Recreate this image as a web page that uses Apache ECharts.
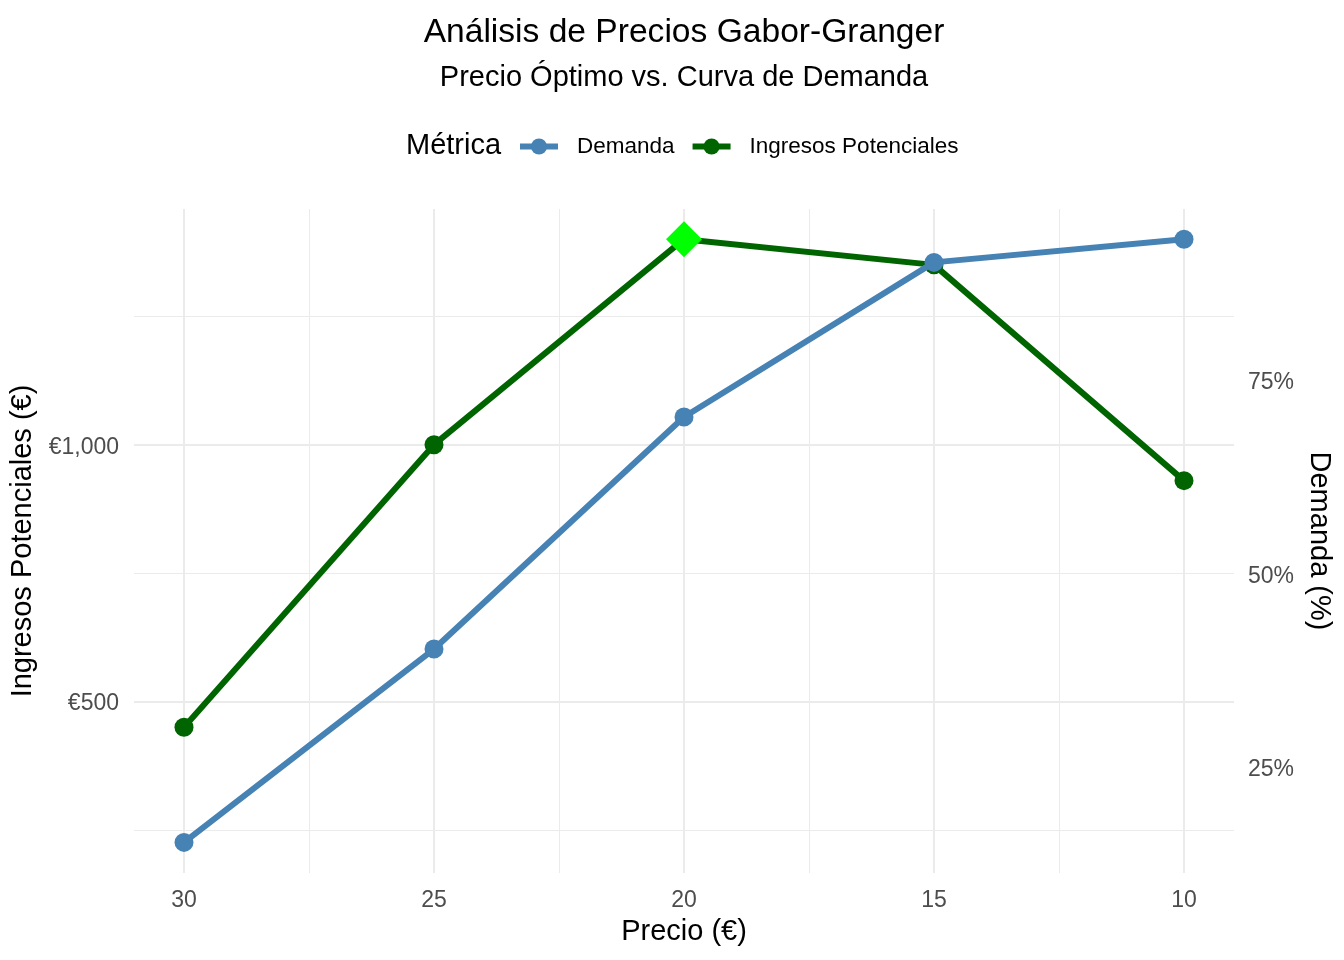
<!DOCTYPE html>
<html>
<head>
<meta charset="utf-8">
<script src="https://cdn.jsdelivr.net/npm/echarts@6/dist/echarts.min.js"></script>
<style>
html,body{margin:0;padding:0;background:#fff;}
#chart{width:1344px;height:960px;}
</style>
</head>
<body>
<div id="chart"></div>
<script>
// ---- data ----
const precios = [30, 25, 20, 15, 10];
const demanda = [15, 40, 70, 90, 93];            // %
const ingresos = [450, 1000, 1400, 1350, 930];   // €
const precioOptimo = 20;
const ingresoOptimo = 1400;

// ---- tick labels ----
const xTicks = [30, 25, 20, 15, 10];
const xMinorTicks = [27.5, 22.5, 17.5, 12.5];
const yLeftTicks = [500, 1000];
const yLeftMinorTicks = [250, 750, 1250];
const yRightTicks = [25, 50, 75];

// secondary axis scale: revenue = demand * SCALE
const SCALE = Math.max(...ingresos) / Math.max(...demanda);
const yMin = 166.25, yMax = 1458.75;
const xMin = 9, xMax = 31;

const FONT = '"Liberation Sans", Arial, sans-serif';
const GRID = '#EBEBEB';

const chart = echarts.init(document.getElementById('chart'), null, {renderer: 'canvas'});

const option = {
  backgroundColor: '#ffffff',
  animation: false,
  textStyle: {fontFamily: FONT},
  title: [
    {text: 'Análisis de Precios Gabor-Granger', left: 679, top: 11, textAlign: 'center',
     textStyle: {fontFamily: FONT, fontSize: 33.6, fontWeight: 'normal', color: '#000'}},
    {text: 'Precio Óptimo vs. Curva de Demanda', left: 679, top: 58, textAlign: 'center',
     textStyle: {fontFamily: FONT, fontSize: 29, fontWeight: 'normal', color: '#000'}},
    {text: 'Métrica', left: 401, top: 126,
     textStyle: {fontFamily: FONT, fontSize: 29, fontWeight: 'normal', color: '#000'}}
  ],
  legend: {
    data: ['Demanda', 'Ingresos Potenciales'],
    left: 512, top: 130,
    itemWidth: 38, itemHeight: 20, itemGap: 15,
    lineStyle: {width: 6},
    textStyle: {fontFamily: FONT, fontSize: 22.5, color: '#000', padding: [0, 0, 0, 14]}
  },
  grid: {left: 134, right: 110, top: 209, bottom: 87, containLabel: false},
  xAxis: [
    {
      type: 'value', inverse: true, min: xMin, max: xMax,
      name: 'Precio (€)', nameLocation: 'middle', nameGap: 44,
      nameTextStyle: {fontFamily: FONT, fontSize: 29, color: '#000'},
      axisLine: {show: false},
      axisTick: {show: false, customValues: xTicks},
      axisLabel: {customValues: xTicks, fontFamily: FONT, fontSize: 23, color: '#4D4D4D', margin: 16},
      splitLine: {show: true, lineStyle: {color: GRID, width: 2}}
    },
    {
      type: 'value', inverse: true, min: xMin, max: xMax, position: 'top',
      axisLine: {show: false}, axisLabel: {show: false},
      axisTick: {show: false, customValues: xMinorTicks},
      splitLine: {show: true, lineStyle: {color: GRID, width: 1}}
    }
  ],
  yAxis: [
    {
      type: 'value', position: 'left', min: yMin, max: yMax,
      name: 'Ingresos Potenciales (€)', nameLocation: 'middle', nameGap: 83, nameRotate: 90,
      nameTextStyle: {fontFamily: FONT, fontSize: 29, color: '#000'},
      axisLine: {show: false},
      axisTick: {show: false, customValues: yLeftTicks},
      axisLabel: {customValues: yLeftTicks, margin: 15,
        formatter: v => '{t|€' + Number(v).toLocaleString('en-US') + '}',
        rich: {t: {fontFamily: FONT, fontSize: 23, color: '#4D4D4D', padding: [5, 0, 0, 0]}}},
      splitLine: {show: true, lineStyle: {color: GRID, width: 2}}
    },
    {
      type: 'value', position: 'right', min: yMin / SCALE, max: yMax / SCALE,
      name: 'Demanda (%)', nameLocation: 'middle', nameGap: 63, nameRotate: -90,
      nameTextStyle: {fontFamily: FONT, fontSize: 29, color: '#000'},
      axisLine: {show: false},
      axisTick: {show: false, customValues: yRightTicks},
      axisLabel: {customValues: yRightTicks, margin: 14,
        formatter: v => '{t|' + v + '%}',
        rich: {t: {fontFamily: FONT, fontSize: 23, color: '#4D4D4D', padding: [9, 0, 0, 0]}}},
      splitLine: {show: false}
    },
    {
      type: 'value', position: 'left', min: yMin, max: yMax,
      axisLine: {show: false}, axisLabel: {show: false},
      axisTick: {show: false, customValues: yLeftMinorTicks},
      splitLine: {show: true, lineStyle: {color: GRID, width: 1}}
    }
  ],
  series: [
    {
      name: 'Ingresos Potenciales', type: 'line', xAxisIndex: 0, yAxisIndex: 0,
      data: precios.map((p, i) => [p, ingresos[i]]),
      symbol: 'circle', symbolSize: 19, showSymbol: true,
      lineStyle: {color: '#006400', width: 6},
      itemStyle: {color: '#006400'},
      z: 3
    },
    {
      name: 'Demanda', type: 'line', xAxisIndex: 0, yAxisIndex: 1,
      data: precios.map((p, i) => [p, demanda[i]]),
      symbol: 'circle', symbolSize: 19, showSymbol: true,
      lineStyle: {color: '#4682B4', width: 6},
      itemStyle: {color: '#4682B4'},
      z: 4
    },
    {
      name: 'Óptimo', type: 'scatter', xAxisIndex: 0, yAxisIndex: 0,
      data: [[precioOptimo, ingresoOptimo]],
      symbol: 'diamond', symbolSize: [36, 36],
      itemStyle: {color: '#00FF00', opacity: 1},
      z: 10, zlevel: 1
    }
  ]
};
chart.setOption(option);
</script>
</body>
</html>
